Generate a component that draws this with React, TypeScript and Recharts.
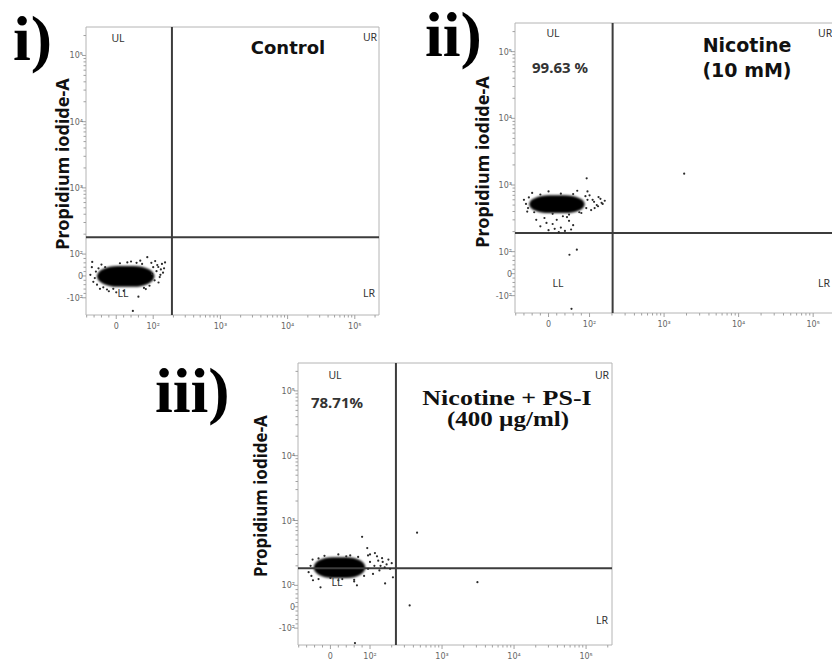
import React from 'react';
import { ScatterChart, Scatter, XAxis, YAxis, ReferenceLine, ReferenceArea } from 'recharts';

// ---------------- data ----------------
const xTickValues = [0, 100, 1000, 10000, 100000];
const xTickLabels = ['0', '10²', '10³', '10⁴', '10⁵'];
const yTickValues = [-100, 0, 100, 1000, 10000, 100000];
const yTickLabels = ['-10²', '0', '10²', '10³', '10⁴', '10⁵'];
const decadeStarts = [100, 1000, 10000, 100000];
const minorMultipliers = [2, 3, 4, 5, 6, 7, 8, 9];
const linearMinorValues = [-80, -60, -40, -20, 20, 40, 60, 80];

// events: [x channel, Propidium iodide-A]
const controlEvents: [number, number][] = [
  [-65, 64], [107, 68], [119, 41], [84, 86], [97, 9], [-62, -27], [45, -160], [60, -95], [-8, -59], [-44, -59],
  [130, 30], [-55, 20], [105, -20], [70, 55], [-30, 40], [112, 22], [135, 55], [-52, -40], [90, -45], [150, 62],
  [40, 66], [-20, -70], [10, 58], [-70, 5], [125, -5], [80, -60], [-35, -52], [140, 15], [0, -75], [55, 60],
  [-58, -10], [-48, 35], [120, -30], [115, 50], [95, 60], [-40, 52], [20, -68], [75, -55], [128, 5], [-66, 40],
  [65, 70], [30, 62], [-25, -62], [100, 40], [145, 35],
];
const controlCoreX = [-52, 104];
const controlCoreY = [-50, 46];
const controlGate = [190, 180];

const nicotineEvents: [number, number][] = [
  [93, 1260], [1860, 1480], [51, 86], [69, 107], [56, -160], [132, 660], [145, 540], [117, 450],
  [-10, 320], [10, 260], [30, 230], [50, 290], [0, 210], [40, 205], [60, 250], [-20, 240], [20, 300],
  [55, 215], [-5, 270], [35, 340], [15, 220], [-30, 300], [45, 330], [25, 196],
  [-60, 600], [-50, 450], [-55, 520], [110, 600], [100, 700], [125, 500], [95, 800], [70, 820],
  [-40, 760], [0, 800], [80, 380], [105, 420], [140, 620],
  [-52, 400], [-48, 650], [92, 450], [95, 600], [90, 680], [-20, 720], [30, 740], [60, 730], [-35, 390],
  [10, 370], [50, 360], [75, 390], [115, 560], [130, 480], [160, 580], [150, 520],
];
const nicotineCoreX = [-47, 88];
const nicotineCoreY = [380, 700];
const nicotineGate = [204, 190];

const psEvents: [number, number][] = [
  [80, 560], [93, 376], [117, 315], [147, 263], [200, 220], [208, 133], [162, 107], [67, 100], [-25, 91],
  [-44, 120], [450, 650], [355, 6], [3100, 112], [62, -170], [100, 300], [130, 240], [-30, 260], [50, 290],
  [110, 150], [140, 200], [-50, 200], [0, 130], [30, 125], [85, 140], [125, 280], [160, 190], [180, 250],
  [-55, 160], [20, 300], [60, 115], [95, 290],
  [-48, 140], [-45, 250], [95, 180], [100, 230], [-15, 285], [40, 280], [70, 275], [-30, 125], [20, 120],
  [60, 122], [115, 200], [150, 230], [170, 210], [135, 170], [190, 180],
];
const psCoreX = [-42, 88];
const psCoreY = [130, 272];
const psGate = [229, 184];

// ---------------- scales ----------------
const X_LIN = 0.55;
const Y_LIN = 0.33;
const bi = (v: number, lin: number) => (v >= 100 ? Math.log10(v) : 2 + ((v - 100) / 100) * lin);
const tX = (v: number) => bi(v, X_LIN);
const tY = (v: number) => bi(v, Y_LIN);
const X_DOMAIN: [number, number] = [1.0, 5.36];
const Y_DOMAIN: [number, number] = [1.08, 5.43];

const key = (t: number) => t.toFixed(4);
const minorRaw = [...linearMinorValues, ...decadeStarts.flatMap((d) => minorMultipliers.map((m) => m * d))];
const xMajor = new Map(xTickValues.map((v, i) => [key(tX(v)), xTickLabels[i]]));
const yMajor = new Map(yTickValues.map((v, i) => [key(tY(v)), yTickLabels[i]]));
const xTicks = [...xTickValues, ...minorRaw]
  .map(tX)
  .filter((t) => t >= X_DOMAIN[0] && t <= X_DOMAIN[1])
  .sort((a, b) => a - b);
const yTicks = [...yTickValues, ...minorRaw]
  .map(tY)
  .filter((t) => t >= Y_DOMAIN[0] && t <= Y_DOMAIN[1])
  .sort((a, b) => a - b);

const toPoints = (ev: [number, number][]) => ev.map(([x, y]) => ({ x: tX(x), y: tY(y) }));

const XTick = (props: any) => {
  const { x, y, payload } = props;
  const lab = xMajor.get(key(payload.value));
  return (
    <g>
      <line x1={x} x2={x} y1={y} y2={y + (lab !== undefined ? 4 : 2.5)} stroke="#a0a0a0" strokeWidth={1} />
      {lab !== undefined && (
        <text x={x} y={y + 14} textAnchor="middle" fontSize={8} fill="#666" fontFamily="DejaVu Sans">
          {lab}
        </text>
      )}
    </g>
  );
};

const YTick = (props: any) => {
  const { x, y, payload } = props;
  const lab = yMajor.get(key(payload.value));
  return (
    <g>
      <line x1={x - (lab !== undefined ? 4 : 2.5)} x2={x} y1={y} y2={y} stroke="#a0a0a0" strokeWidth={1} />
      {lab !== undefined && (
        <text x={x - 3} y={y + 3} textAnchor="end" fontSize={8} fill="#666" fontFamily="DejaVu Sans">
          {lab}
        </text>
      )}
    </g>
  );
};

const coreShape = (p: any) => {
  const x = Math.min(p.x, p.x + p.width);
  const y = Math.min(p.y, p.y + p.height);
  const w = Math.abs(p.width);
  const h = Math.abs(p.height);
  return (
    <g>
      <defs>
        <filter id="soft" x="-20%" y="-40%" width="140%" height="180%">
          <feGaussianBlur stdDeviation="0.8" />
        </filter>
      </defs>
      <rect x={x} y={y} width={w} height={h} rx={w * 0.36} ry={h / 2} fill="#050505" filter="url(#soft)" />
    </g>
  );
};

const dotShape = (p: any) => <circle cx={p.cx} cy={p.cy} r={1.1} fill="#2a2a2a" />;

type PanelProps = {
  left: number;
  top: number;
  width: number;
  height: number;
  yAxisWidth: number;
  events: [number, number][];
  coreX: number[];
  coreY: number[];
  gate: number[];
};

const Panel = ({ left, top, width, height, yAxisWidth, events, coreX, coreY, gate }: PanelProps) => (
  <div style={{ position: 'absolute', left, top }}>
    <ScatterChart width={width} height={height} margin={{ top: 12, right: 6, bottom: 0, left: 0 }}>
      <XAxis
        type="number"
        dataKey="x"
        domain={X_DOMAIN}
        ticks={xTicks}
        interval={0}
        tick={<XTick />}
        tickLine={false}
        axisLine={false}
        tickSize={0}
        tickMargin={0}
        height={40}
        allowDataOverflow
      />
      <YAxis
        type="number"
        dataKey="y"
        domain={Y_DOMAIN}
        ticks={yTicks}
        interval={0}
        tick={<YTick />}
        tickLine={false}
        axisLine={false}
        tickSize={0}
        tickMargin={0}
        width={yAxisWidth}
        allowDataOverflow
      />
      <ReferenceArea
        x1={X_DOMAIN[0]}
        x2={X_DOMAIN[1]}
        y1={Y_DOMAIN[0]}
        y2={Y_DOMAIN[1]}
        fill="#ffffff"
        fillOpacity={0}
        stroke="#b4b4b4"
        strokeWidth={1}
      />
      <ReferenceArea
        x1={tX(coreX[0])}
        x2={tX(coreX[1])}
        y1={tY(coreY[0])}
        y2={tY(coreY[1])}
        shape={coreShape}
      />
      <Scatter data={toPoints(events)} shape={dotShape} isAnimationActive={false} />
      <ReferenceLine x={tX(gate[0])} stroke="#3c3c3c" strokeWidth={2} />
      <ReferenceLine y={tY(gate[1])} stroke="#3c3c3c" strokeWidth={2} />
    </ScatterChart>
  </div>
);

const SANS = 'Noto Sans, DejaVu Sans, sans-serif';
const SERIF = 'Liberation Serif, Times New Roman, serif';

const Q = ({ x, y, t, anchor = 'middle' }: { x: number; y: number; t: string; anchor?: string }) => (
  <text x={x} y={y} textAnchor={anchor as any} dominantBaseline="central" fontSize={10.5} fill="#333" fontFamily={SANS}>
    {t}
  </text>
);

const YLabel = ({ x, y, size }: { x: number; y: number; size: number }) => (
  <text
    x={x}
    y={y}
    transform={`rotate(-90 ${x} ${y})`}
    textAnchor="middle"
    dominantBaseline="central"
    fontSize={size}
    fontWeight="bold"
    fill="#111"
    fontFamily={SANS}
  >
    Propidium iodide-A
  </text>
);

export default function App() {
  return (
    <div
      style={{
        position: 'fixed',
        left: 0,
        top: 0,
        width: 832,
        height: 661,
        overflow: 'hidden',
        background: '#fff',
      }}
    >
      <Panel left={40} top={15} width={345} height={340} yAxisWidth={46} events={controlEvents} coreX={controlCoreX} coreY={controlCoreY} gate={controlGate} />
      <Panel left={467} top={11} width={379} height={342} yAxisWidth={48} events={nicotineEvents} coreX={nicotineCoreX} coreY={nicotineCoreY} gate={nicotineGate} />
      <Panel left={250} top={351} width={368} height={334} yAxisWidth={48} events={psEvents} coreX={psCoreX} coreY={psCoreY} gate={psGate} />
      <svg width={832} height={661} style={{ position: 'absolute', left: 0, top: 0, pointerEvents: 'none' }}>
        {/* panel numerals */}
        <text x={13} y={60} fontSize={64} fontWeight="bold" fontFamily={SERIF} fill="#000">i)</text>
        <text x={425} y={56} fontSize={64} fontWeight="bold" fontFamily={SERIF} fill="#000">ii)</text>
        <text x={155} y={412} fontSize={64} fontWeight="bold" fontFamily={SERIF} fill="#000">iii)</text>

        {/* y-axis titles */}
        <YLabel x={62} y={164} size={18} />
        <YLabel x={482} y={162} size={18} />
        <YLabel x={260} y={496} size={17} />

        {/* panel i */}
        <Q x={118} y={38} t="UL" />
        <Q x={370} y={37} t="UR" />
        <Q x={123} y={293} t="LL" />
        <Q x={369} y={293} t="LR" />
        <text x={288} y={47} textAnchor="middle" dominantBaseline="central" fontSize={18} fontWeight="bold" fill="#111" fontFamily="DejaVu Sans">
          Control
        </text>

        {/* panel ii */}
        <Q x={553} y={33} t="UL" />
        <Q x={818} y={33} t="UR" anchor="start" />
        <Q x={558} y={283} t="LL" />
        <Q x={818} y={283} t="LR" anchor="start" />
        <text x={560} y={67} textAnchor="middle" dominantBaseline="central" fontSize={15} fontWeight="bold" fill="#333" fontFamily={SANS}>
          99.63 %
        </text>
        <text x={747} y={45} textAnchor="middle" dominantBaseline="central" fontSize={19} fontWeight="bold" fill="#111" fontFamily="DejaVu Sans">
          Nicotine
        </text>
        <text x={747} y={70} textAnchor="middle" dominantBaseline="central" fontSize={19} fontWeight="bold" fill="#111" fontFamily="DejaVu Sans">
          (10 mM)
        </text>

        {/* panel iii */}
        <Q x={335} y={375} t="UL" />
        <Q x={602} y={375} t="UR" />
        <Q x={337} y={582} t="LL" />
        <Q x={602} y={620} t="LR" />
        <text x={337} y={402} textAnchor="middle" dominantBaseline="central" fontSize={15} fontWeight="bold" fill="#333" fontFamily={SANS}>
          78.71%
        </text>
        <g transform="translate(507 398) scale(1.3 1)">
          <text x={0} y={0} textAnchor="middle" dominantBaseline="central" fontSize={20} fontWeight="bold" fill="#111" fontFamily={SERIF}>
            Nicotine + PS-I
          </text>
        </g>
        <g transform="translate(508 419) scale(1.25 1)">
          <text x={0} y={0} textAnchor="middle" dominantBaseline="central" fontSize={20} fontWeight="bold" fill="#111" fontFamily={SERIF}>
            (400 µg/ml)
          </text>
        </g>
      </svg>
    </div>
  );
}
